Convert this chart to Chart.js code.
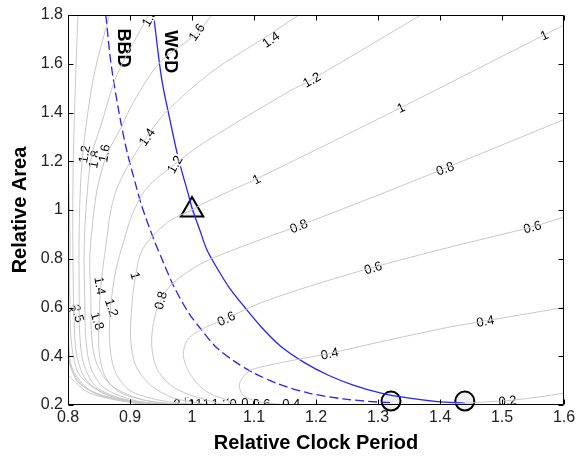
<!DOCTYPE html>
<html>
<head>
<meta charset="utf-8">
<script src="https://cdn.jsdelivr.net/npm/chart.js@4.4.1/dist/chart.umd.min.js"></script>
<style>
html, body { margin: 0; padding: 0; background: #fff; }
</style>
</head>
<body>
<canvas id="myChart" width="579" height="456"></canvas>
<script>
const xTicks = [0.8, 0.9, 1.0, 1.1, 1.2, 1.3, 1.4, 1.5, 1.6];
const yTicks = [0.2, 0.4, 0.6, 0.8, 1.0, 1.2, 1.4, 1.6, 1.8];

// contour lines, [relative clock period, relative area]
const c02 = [[1.40,0.2],[1.456,0.21],[1.509,0.218],[1.56,0.233],[1.6,0.249]];
const c04 = [[1.156,0.2],[1.111,0.212],[1.084,0.237],[1.076,0.278],[1.082,0.314],[1.095,0.343],[1.124,0.363],[1.156,0.38],[1.222,0.412],[1.30,0.457],[1.412,0.518],[1.473,0.545],[1.6,0.6]];
const c06 = [[1.076,0.2],[1.055,0.22],[1.02,0.261],[0.996,0.331],[0.986,0.404],[0.992,0.465],[1.012,0.506],[1.055,0.555],[1.108,0.616],[1.172,0.673],[1.284,0.759],[1.412,0.845],[1.549,0.931],[1.6,0.971]];
const c08 = [[1.052,0.2],[0.997,0.241],[0.965,0.282],[0.943,0.351],[0.935,0.445],[0.938,0.539],[0.949,0.629],[0.97,0.702],[1.018,0.784],[1.092,0.861],[1.172,0.935],[1.30,1.061],[1.408,1.171],[1.6,1.371]];
const c10 = [[1.028,0.2],[0.97,0.229],[0.933,0.282],[0.909,0.363],[0.901,0.473],[0.903,0.608],[0.909,0.731],[0.919,0.833],[0.943,0.91],[0.968,0.962],[1.0,1.0],[1.016,1.024],[1.103,1.127],[1.156,1.192],[1.337,1.42],[1.568,1.718],[1.6,1.759]];
const c12 = [[1.012,0.2],[0.947,0.22],[0.899,0.261],[0.875,0.343],[0.867,0.465],[0.869,0.608],[0.877,0.751],[0.89,0.873],[0.904,0.984],[0.927,1.09],[0.972,1.188],[1.023,1.282],[1.156,1.486],[1.193,1.535],[1.369,1.8]];
const c14 = [[0.996,0.2],[0.931,0.216],[0.883,0.253],[0.859,0.322],[0.85,0.424],[0.85,0.547],[0.853,0.69],[0.861,0.853],[0.869,0.996],[0.879,1.09],[0.901,1.2],[0.925,1.294],[0.959,1.404],[1.032,1.567],[1.124,1.718],[1.172,1.8]];
const c16 = [[0.988,0.2],[0.923,0.22],[0.871,0.278],[0.846,0.371],[0.838,0.486],[0.837,0.629],[0.835,0.792],[0.84,0.955],[0.848,1.098],[0.863,1.229],[0.885,1.335],[0.906,1.445],[0.949,1.608],[1.007,1.722],[1.032,1.8]];
const c18 = [[0.98,0.2],[0.912,0.216],[0.859,0.269],[0.837,0.351],[0.829,0.465],[0.827,0.629],[0.826,0.833],[0.83,1.037],[0.838,1.22],[0.855,1.363],[0.879,1.555],[0.93,1.8]];
const c20 = [[0.972,0.2],[0.903,0.216],[0.848,0.269],[0.826,0.363],[0.819,0.486],[0.818,0.669],[0.818,0.914],[0.821,1.139],[0.829,1.343],[0.843,1.567],[0.867,1.8]];
const c25 = [[0.964,0.2],[0.883,0.224],[0.832,0.294],[0.814,0.404],[0.81,0.547],[0.808,0.792],[0.808,1.118],[0.811,1.445],[0.816,1.8]];
const c30 = [[0.956,0.2],[0.867,0.237],[0.819,0.322],[0.806,0.445],[0.803,0.629],[0.803,0.914],[0.8,1.241]];
const c40 = [[0.947,0.2],[0.843,0.249],[0.808,0.343],[0.801,0.465],[0.8,0.669]];
const c50 = [[0.939,0.2],[0.883,0.22],[0.827,0.273],[0.803,0.363],[0.8,0.486]];
const c60 = [[0.931,0.2],[0.859,0.233],[0.816,0.294],[0.8,0.392]];
const c80 = [[0.923,0.2],[0.835,0.249],[0.8,0.322]];

const wcd = [[0.938,1.8],[0.951,1.539],[0.965,1.363],[0.978,1.212],[0.994,1.065],[1.0,1.008],[1.012,0.922],[1.024,0.837],[1.041,0.759],[1.06,0.682],[1.084,0.604],[1.111,0.522],[1.143,0.441],[1.18,0.376],[1.22,0.322],[1.26,0.282],[1.305,0.249],[1.348,0.229],[1.396,0.214],[1.44,0.208]];
const bbd = [[0.861,1.8],[0.869,1.608],[0.882,1.404],[0.895,1.241],[0.909,1.106],[0.919,1.016],[0.938,0.882],[0.954,0.784],[0.97,0.69],[0.994,0.58],[1.016,0.506],[1.039,0.437],[1.068,0.38],[1.1,0.331],[1.14,0.286],[1.188,0.249],[1.244,0.225],[1.30,0.212],[1.321,0.21]];

const triangle = [[1.0, 1.0]];
const circles = [[1.321, 0.216], [1.44, 0.216]];

// contour labels: text, x, y, angle (deg)
const contourLabels = [
    ['1.6', 1.007, 1.73, -55], ['1.4', 1.127, 1.70, -35], ['1', 1.568, 1.718, -25],
    ['1.2', 1.193, 1.535, -30], ['1', 1.337, 1.42, -25], ['0.8', 1.408, 1.171, -20],
    ['1', 1.104, 1.127, -27], ['1.2', 0.972, 1.188, -60], ['1.4', 0.927, 1.30, -55],
    ['0.8', 1.172, 0.935, -22], ['0.6', 1.292, 0.764, -17], ['0.6', 1.549, 0.931, -15],
    ['0.4', 1.222, 0.412, -12], ['0.4', 1.473, 0.545, -10], ['0.6', 1.055, 0.555, -25],
    ['0.8', 0.949, 0.629, -75], ['1', 0.909, 0.731, 75], ['1.2', 0.871, 0.60, 72],
    ['1.4', 0.852, 0.69, 80], ['1.8', 0.848, 0.545, 72], ['2.5', 0.816, 0.576, 72],
    ['3', 0.805, 0.596, 80], ['1.2', 0.826, 1.229, -80], ['1.8', 0.842, 1.208, -80],
    ['1.6', 0.858, 1.233, -80], ['1.8', 0.931, 1.79, -60], ['0.2', 1.509, 0.218, -6],
    ['3', 0.975, 0.208, 0], ['2.5', 0.985, 0.21, -10], ['2', 0.997, 0.207, 0],
    ['1.8', 1.008, 0.209, -8], ['1.6', 1.02, 0.207, 0], ['1.4', 1.032, 0.209, -5],
    ['1.2', 1.046, 0.207, 0], ['1', 1.06, 0.209, 0], ['0.8', 1.075, 0.208, 0],
    ['0.6', 1.094, 0.209, 0], ['0.6', 1.112, 0.208, 0], ['0.4', 1.16, 0.208, 0]
];
const curveNames = [['BBD', 0.888, 1.665], ['WCD', 0.964, 1.649]];

const FONT = "'Liberation Sans', Arial, sans-serif";
Chart.defaults.font.family = FONT;

const toXY = pts => pts.map(p => ({x: p[0], y: p[1]}));
const grayContours = [c02, c04, c06, c08, c10, c12, c14, c16, c18, c20, c25, c30, c40, c50, c60, c80];

const datasets = grayContours.map(pts => ({
    data: toXY(pts),
    showLine: true,
    borderColor: '#c8c8c8',
    borderWidth: 1,
    pointRadius: 0,
    tension: 0.3
}));
datasets.push({
    data: toXY(bbd), showLine: true, borderColor: '#2424ff', borderWidth: 1.3,
    borderDash: [9, 4], pointRadius: 0, tension: 0.3
});
datasets.push({
    data: toXY(wcd), showLine: true, borderColor: '#2424ff', borderWidth: 1.3,
    pointRadius: 0, tension: 0.3
});
datasets.push({
    data: toXY(triangle), pointStyle: 'triangle', pointRadius: 13,
    backgroundColor: '#f0f0f0', borderColor: '#000', borderWidth: 2, clip: false
});
datasets.push({
    data: toXY(circles), pointStyle: 'circle', pointRadius: 9.5,
    backgroundColor: '#f0f0f0', borderColor: '#000', borderWidth: 2, clip: false
});
const lastGray = grayContours.length - 1;

// contour labels break the gray lines, drawn before the blue curves
const labelPlugin = {
    id: 'clabels',
    afterDatasetDraw(chart, args) {
        if (args.index !== lastGray) return;
        const {ctx, chartArea: a, scales: {x, y}} = chart;
        ctx.save();
        ctx.beginPath();
        ctx.rect(a.left, a.top, a.right - a.left, a.bottom - a.top);
        ctx.clip();
        ctx.font = '13px ' + FONT;
        ctx.textAlign = 'center';
        ctx.textBaseline = 'middle';
        contourLabels.forEach(l => {
            const w = ctx.measureText(l[0]).width;
            ctx.save();
            ctx.translate(x.getPixelForValue(l[1]), y.getPixelForValue(l[2]));
            ctx.rotate(l[3] * Math.PI / 180);
            ctx.fillStyle = '#fff';
            ctx.fillRect(-w / 2 - 1, -6, w + 2, 12);
            ctx.fillStyle = '#000';
            ctx.fillText(l[0], 0, 1);
            ctx.restore();
        });
        ctx.font = 'bold 18px ' + FONT;
        curveNames.forEach(n => {
            ctx.save();
            ctx.translate(x.getPixelForValue(n[1]), y.getPixelForValue(n[2]));
            ctx.rotate(Math.PI / 2);
            ctx.fillStyle = '#000';
            ctx.fillText(n[0], 0, 0);
            ctx.restore();
        });
        ctx.restore();
    }
};

// matlab style box with inward ticks
const boxPlugin = {
    id: 'box',
    afterDraw(chart) {
        const {ctx, chartArea: a, scales: {x, y}} = chart;
        const L = Math.round(a.left) + 0.5, R = Math.round(a.right) - 0.5;
        const T = Math.round(a.top) + 0.5, B = Math.round(a.bottom) - 0.5;
        ctx.save();
        ctx.strokeStyle = '#000';
        ctx.lineWidth = 1;
        ctx.beginPath();
        ctx.rect(L, T, R - L, B - T);
        xTicks.forEach(v => {
            const px = Math.round(x.getPixelForValue(v)) + 0.5;
            ctx.moveTo(px, B); ctx.lineTo(px, B - 5);
            ctx.moveTo(px, T); ctx.lineTo(px, T + 5);
        });
        yTicks.forEach(v => {
            const py = Math.round(y.getPixelForValue(v)) + 0.5;
            ctx.moveTo(L, py); ctx.lineTo(L + 5, py);
            ctx.moveTo(R, py); ctx.lineTo(R - 5, py);
        });
        ctx.stroke();
        ctx.restore();
    }
};

const fmt = v => String(Number(v.toFixed(1)));

const config = {
    type: 'scatter',
    data: {datasets: datasets},
    options: {
        responsive: false,
        animation: false,
        layout: {padding: {top: 13, right: 12, left: 0, bottom: 0}},
        plugins: {legend: {display: false}, tooltip: {enabled: false}},
        scales: {
            x: {
                type: 'linear', min: 0.8, max: 1.6,
                afterBuildTicks: s => { s.ticks = xTicks.map(v => ({value: v})); },
                afterFit: s => { s.height = 51; },
                grid: {display: false, drawTicks: false},
                border: {display: false},
                ticks: {font: {size: 16}, color: '#222', padding: 3, maxRotation: 0, autoSkip: false, callback: fmt},
                title: {display: true, text: 'Relative Clock Period', color: '#000',
                    font: {size: 20, weight: 'bold'}, padding: {top: 0, bottom: 1}}
            },
            y: {
                type: 'linear', min: 0.2, max: 1.8,
                afterBuildTicks: s => { s.ticks = yTicks.map(v => ({value: v})); },
                afterFit: s => { s.width = 68; },
                grid: {display: false, drawTicks: false},
                border: {display: false},
                ticks: {font: {size: 16}, color: '#222', padding: 5, autoSkip: false, callback: fmt},
                title: {display: true, text: 'Relative Area', color: '#000',
                    font: {size: 20, weight: 'bold'}, padding: {top: 8, bottom: 0}}
            }
        }
    },
    plugins: [labelPlugin, boxPlugin]
};
const myChart = new Chart(document.getElementById('myChart'), config);
</script>
</body>
</html>
